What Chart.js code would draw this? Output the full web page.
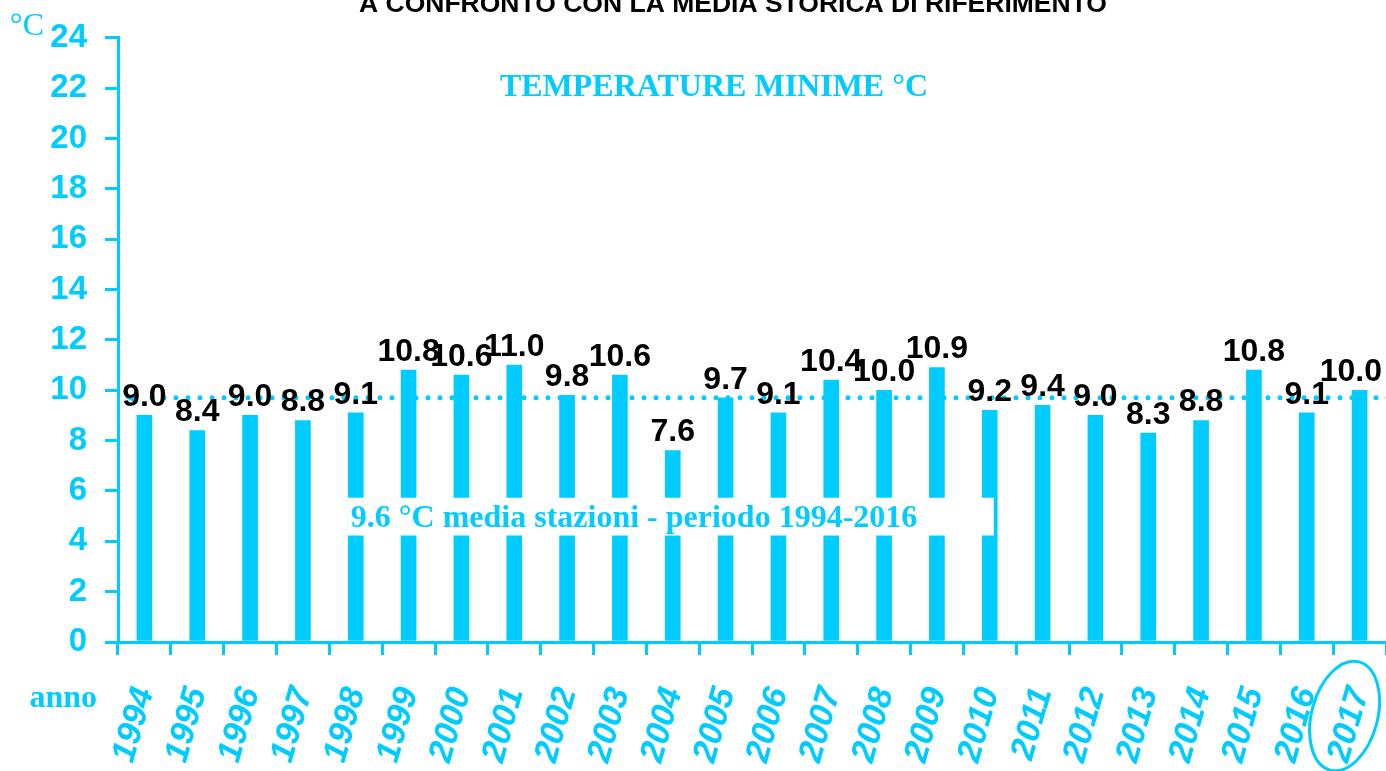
<!DOCTYPE html>
<html>
<head>
<meta charset="utf-8">
<script src="https://cdn.jsdelivr.net/npm/chart.js@4.4.1/dist/chart.umd.min.js"></script>
<style>
  html, body { margin: 0; padding: 0; background: #fff; }
  #wrap { width: 1386px; height: 771px; position: relative; }
</style>
</head>
<body>
<div id="wrap"><canvas id="c" width="1386" height="771"></canvas></div>
<script>
// --- data ---
const years = ['1994', '1995', '1996', '1997', '1998', '1999', '2000', '2001', '2002', '2003', '2004', '2005',
               '2006', '2007', '2008', '2009', '2010', '2011', '2012', '2013', '2014', '2015', '2016', '2017'];
const tMin = [9.0, 8.4, 9.0, 8.8, 9.1, 10.8, 10.6, 11.0, 9.8, 10.6, 7.6, 9.7,
              9.1, 10.4, 10.0, 10.9, 9.2, 9.4, 9.0, 8.3, 8.8, 10.8, 9.1, 10.0];
const meanLine = 9.7;          // dotted reference line as drawn
const yMin = 0, yMax = 24, yStep = 2;

const titleText = 'A CONFRONTO CON LA MEDIA STORICA DI RIFERIMENTO';
const subtitleText = 'TEMPERATURE MINIME °C';
const meanText = '9.6 °C media stazioni - periodo 1994-2016';
const yUnit = '°C';
const xName = 'anno';

const CYAN = '#00ccff';
const SANS = '"Liberation Sans", Arial, sans-serif';
const SERIF = '"Liberation Serif", "Times New Roman", serif';

const decor = {
  id: 'decor',
  afterDatasetsDraw(chart) {
    const { ctx, chartArea, scales: { x, y } } = chart;
    ctx.save();

    // white box hiding the bars behind the mean label
    const bx0 = x.getPixelForValue(4) - 8, bx1 = x.getPixelForValue(16) + 4;
    const by0 = y.getPixelForValue(5.73), by1 = y.getPixelForValue(4.23);
    ctx.fillStyle = '#fff';
    ctx.fillRect(bx0, by0, bx1 - bx0, by1 - by0);
    ctx.fillStyle = CYAN;
    ctx.font = 'bold 32px ' + SERIF;
    ctx.textAlign = 'left';
    ctx.textBaseline = 'alphabetic';
    ctx.fillText(meanText, bx0 + 3, by1 - 9);

    // dotted mean line with arrow head
    const my = y.getPixelForValue(meanLine);
    ctx.strokeStyle = CYAN;
    ctx.lineWidth = 5;
    ctx.lineCap = 'round';
    ctx.setLineDash([0, 12]);
    ctx.beginPath();
    ctx.moveTo(chartArea.left + 34, my);
    ctx.lineTo(chart.width + 4, my);
    ctx.stroke();
    ctx.setLineDash([]);
    ctx.beginPath();
    ctx.moveTo(chartArea.left + 7, my);
    ctx.lineTo(chartArea.left + 19, my - 6);
    ctx.lineTo(chartArea.left + 19, my + 6);
    ctx.closePath();
    ctx.fill();

    // value labels (kept inside the canvas at the right edge)
    ctx.fillStyle = '#000';
    ctx.font = 'bold 32px ' + SANS;
    ctx.textAlign = 'center';
    ctx.textBaseline = 'middle';
    chart.getDatasetMeta(0).data.forEach((bar, i) => {
      const txt = tMin[i].toFixed(1);
      const half = ctx.measureText(txt).width / 2;
      const lx = Math.min(bar.x, chart.width - half - 4);
      ctx.fillText(txt, lx, bar.y - 18);
    });
    ctx.restore();
  },
  afterDraw(chart) {
    const { ctx, chartArea, scales: { x } } = chart;
    ctx.save();

    // top title, clipped by the top edge as in the source
    ctx.fillStyle = '#000';
    ctx.font = 'bold 26.5px ' + SANS;
    ctx.textAlign = 'center';
    ctx.textBaseline = 'alphabetic';
    ctx.fillText(titleText, 733, 12);

    ctx.fillStyle = CYAN;
    ctx.font = 'bold 32px ' + SERIF;
    ctx.fillText(subtitleText, 714, 96);

    ctx.font = '32px ' + SERIF;
    ctx.textAlign = 'right';
    ctx.fillText(yUnit, 44, 35);

    ctx.font = 'bold 32px ' + SERIF;
    ctx.fillText(xName, 97, 707);

    // ellipse around the last year
    const ex = x.getPixelForValue(years.length - 1) - 15;
    ctx.strokeStyle = CYAN;
    ctx.lineWidth = 3;
    ctx.beginPath();
    ctx.ellipse(ex, chartArea.bottom + 74, 33, 56, 0.26, 0, Math.PI * 2);
    ctx.stroke();
    ctx.restore();
  }
};

new Chart(document.getElementById('c'), {
  type: 'bar',
  data: {
    labels: years,
    datasets: [{
      data: tMin,
      backgroundColor: CYAN,
      borderWidth: 0,
      barThickness: 15,
    }]
  },
  options: {
    responsive: false,
    animation: false,
    events: [],
    layout: { padding: { top: 34, right: 0, left: 0, bottom: 0 } },
    plugins: { legend: { display: false }, tooltip: { enabled: false }, title: { display: false } },
    scales: {
      x: {
        offset: true,
        grid: { offset: true, drawOnChartArea: false, drawTicks: true, tickLength: 13, color: CYAN, lineWidth: 3 },
        border: { color: CYAN, width: 3 },
        ticks: {
          color: CYAN,
          font: { family: SANS, size: 34, weight: 'bold', style: 'italic' },
          minRotation: 74, maxRotation: 74,
          autoSkip: false,
          padding: 28,
        },
        afterFit(scale) {
          scale.height = 129;
          scale.paddingLeft = 0;
          scale.paddingRight = 0;
        }
      },
      y: {
        min: yMin, max: yMax,
        grid: { drawOnChartArea: false, drawTicks: true, tickLength: 13, color: CYAN, lineWidth: 3 },
        border: { color: CYAN, width: 3 },
        ticks: {
          stepSize: yStep,
          color: CYAN,
          font: { family: SANS, size: 33, weight: 'bold' },
          padding: 18,
        },
        afterFit(scale) { scale.width = 118; }
      }
    }
  },
  plugins: [decor]
});
</script>
</body>
</html>
